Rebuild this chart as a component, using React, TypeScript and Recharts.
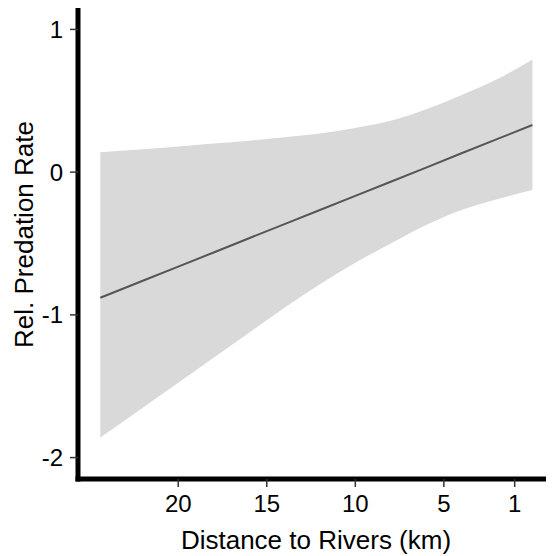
import React from 'react';
import { ComposedChart, Area, Line, XAxis, YAxis, Label } from 'recharts';

// model prediction along distance to the nearest river
const distanceKm = [24.4, 22, 20, 18, 16, 14, 12, 10, 8, 6, 4, 2, 0];
const fitted = [-0.88, -0.761, -0.662, -0.563, -0.463, -0.364, -0.265, -0.166, -0.067, 0.032, 0.132, 0.231, 0.33];
const ciUpper = [0.14, 0.16, 0.18, 0.2, 0.22, 0.245, 0.27, 0.31, 0.36, 0.44, 0.54, 0.65, 0.79];
const ciLower = [-1.86, -1.65, -1.475, -1.3, -1.125, -0.95, -0.785, -0.635, -0.5, -0.37, -0.265, -0.19, -0.125];

const xTicks = [20, 15, 10, 5, 1];
const yTicks = [-2, -1, 0, 1];

const data = distanceKm.map((d, i) => ({
  distance: d,
  fit: fitted[i],
  band: [ciLower[i], ciUpper[i]],
}));

const FONT = '"Liberation Sans", Arial, sans-serif';

const axisLine = { stroke: '#000', strokeWidth: 5, strokeLinecap: 'square' as const };
const tickLine = { stroke: '#333', strokeWidth: 1.5 };
const tickStyle = { fill: '#000', fontSize: 24, fontFamily: FONT };

const YTitle = (props: any) => {
  const { viewBox } = props;
  const cy = viewBox.y + viewBox.height / 2 - 9;
  const x = 25;
  return (
    <text
      x={x}
      y={cy}
      transform={`rotate(-90, ${x}, ${cy})`}
      textAnchor="middle"
      fontSize={26}
      fontFamily={FONT}
      fill="#000"
    >
      Rel. Predation Rate
    </text>
  );
};

const App: React.FC = () => {
  return (
    <ComposedChart
      width={546}
      height={548}
      data={data}
      margin={{ top: 0, right: 0, bottom: 0, left: 0 }}
    >
      <XAxis
        dataKey="distance"
        type="number"
        reversed
        domain={[-1.22, 25.66]}
        allowDataOverflow
        ticks={xTicks}
        interval={0}
        height={77}
        axisLine={axisLine}
        tickLine={tickLine}
        tickSize={8}
        tickMargin={8}
        tick={tickStyle}
      >
        <Label
          value="Distance to Rivers (km)"
          position="insideBottom"
          offset={7}
          style={{ fontSize: 26, fontFamily: FONT, fill: '#000' }}
        />
      </XAxis>
      <YAxis
        type="number"
        domain={[-2.15, 1.15]}
        allowDataOverflow
        ticks={yTicks}
        interval={0}
        width={70}
        axisLine={axisLine}
        tickLine={tickLine}
        tickSize={8}
        tickMargin={7}
        tick={tickStyle}
      >
        <Label content={YTitle} />
      </YAxis>
      <Area
        dataKey="band"
        type="monotone"
        stroke="none"
        fill="#d9d9d9"
        fillOpacity={1}
        isAnimationActive={false}
      />
      <Line
        dataKey="fit"
        type="linear"
        stroke="#555555"
        strokeWidth={2}
        dot={false}
        activeDot={false}
        isAnimationActive={false}
      />
    </ComposedChart>
  );
};

export default App;
